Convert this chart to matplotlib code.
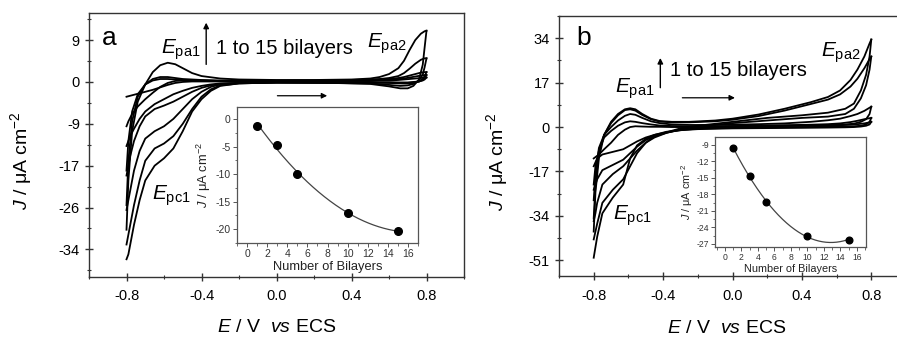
import numpy as np
import matplotlib
matplotlib.use("Agg")
import matplotlib.pyplot as plt
from matplotlib.ticker import MultipleLocator, FixedLocator

plt.rcParams['font.family'] = ['Liberation Sans', 'DejaVu Sans']
plt.rcParams['mathtext.fontset'] = 'custom'
plt.rcParams['mathtext.rm'] = 'Liberation Sans'
plt.rcParams['mathtext.it'] = 'Liberation Sans:italic'
plt.rcParams['mathtext.bf'] = 'Liberation Sans:bold'
plt.rcParams['axes.unicode_minus'] = False

# ---------------- Panel a data ----------------
E_fwd_a = [-0.8, -0.79, -0.77, -0.74, -0.7, -0.66, -0.62, -0.58, -0.54, -0.5, -0.45, -0.4, -0.3, -0.2,
           0.0, 0.2, 0.4, 0.5, 0.55, 0.6, 0.65, 0.68, 0.71, 0.74, 0.77, 0.79, 0.8]
E_rev_a = [0.8, 0.79, 0.78, 0.76, 0.73, 0.7, 0.66, 0.6, 0.5, 0.3, 0.0, -0.2, -0.3, -0.35, -0.4, -0.45,
           -0.5, -0.55, -0.6, -0.65, -0.7, -0.73, -0.76, -0.78, -0.79, -0.8]

J_fwd_a = {
    15: [-30, -20, -10, -4, -0.5, 2, 3.4, 3.9, 3.6, 2.8, 1.8, 1.2, 0.7, 0.5, 0.4, 0.4, 0.5, 0.7, 1.0, 1.6, 2.8, 4.3, 6.5, 8.5, 9.8, 10.3, 10.4],
    10: [-25, -16, -8, -3, -0.5, 0.6, 1.0, 1.0, 0.8, 0.6, 0.5, 0.4, 0.3, 0.3, 0.3, 0.3, 0.4, 0.5, 0.6, 0.8, 1.2, 1.8, 2.7, 3.7, 4.5, 4.8, 4.8],
    5: [-18, -12, -6, -2.5, -0.5, 0.3, 0.6, 0.6, 0.5, 0.4, 0.3, 0.3, 0.2, 0.2, 0.2, 0.3, 0.3, 0.4, 0.5, 0.6, 0.8, 1.0, 1.3, 1.6, 1.9, 2.0, 2.0],
    3: [-9, -8, -6.5, -5, -3.5, -2.2, -1, -0.2, 0.2, 0.3, 0.3, 0.2, 0.2, 0.2, 0.2, 0.2, 0.3, 0.3, 0.4, 0.5, 0.6, 0.7, 0.9, 1.1, 1.3, 1.4, 1.4],
    1: [-3, -2.9, -2.7, -2.4, -2, -1.6, -1.1, -0.6, -0.2, 0, 0.1, 0.1, 0.1, 0.1, 0.1, 0.1, 0.2, 0.2, 0.3, 0.3, 0.4, 0.5, 0.6, 0.7, 0.8, 0.9, 0.9],
}
J_rev_a = {
    15: [10.4, 7, 3.5, 0.5, -0.8, -1.3, -1.3, -0.9, -0.4, -0.2, -0.1, -0.3, -0.8, -1.8, -3.5, -6, -10, -13.5, -15.5, -17, -20, -24, -29, -33, -35, -36],
    10: [4.8, 3, 1.5, 0.3, -0.4, -0.7, -0.8, -0.6, -0.3, -0.2, -0.1, -0.3, -0.7, -1.5, -3, -5.5, -8.5, -11, -12.5, -13.5, -16, -20, -25, -29, -31, -33],
    5: [2.0, 1.2, 0.6, 0.1, -0.2, -0.3, -0.3, -0.2, -0.1, -0.1, -0.1, -0.2, -0.5, -1.0, -2.0, -3.5, -5.5, -7.5, -9, -10, -11.5, -14, -18, -22, -24, -26],
    3: [1.4, 0.8, 0.4, 0.1, -0.1, -0.2, -0.2, -0.1, -0.1, -0.1, -0.1, -0.2, -0.4, -0.7, -1.2, -2, -3, -4, -4.8, -5.5, -7, -9, -12, -15, -17, -19],
    1: [0.9, 0.5, 0.3, 0.1, 0, -0.1, -0.1, -0.1, -0.1, -0.1, -0.1, -0.2, -0.3, -0.5, -0.8, -1.2, -1.8, -2.5, -3.5, -4.5, -6, -7.5, -9.5, -11, -12, -13],
}

bilayers = [1, 3, 5, 10, 15]
inset_a_J = [-1.2, -4.7, -10.0, -17.1, -20.3]

yticks_a = [8.5, 0, -8.5, -17, -25.5, -34]
yticklabels_a = ['9', '0', '-9', '-17', '-26', '-34']

# ---------------- Panel b data ----------------
E_fwd_b = [-0.8, -0.79, -0.77, -0.74, -0.7, -0.66, -0.62, -0.59, -0.56, -0.52, -0.47, -0.42, -0.35, -0.25,
           -0.1, 0.0, 0.15, 0.3, 0.45, 0.55, 0.62, 0.68, 0.72, 0.76, 0.79, 0.8]
E_rev_b = [0.8, 0.79, 0.77, 0.74, 0.7, 0.65, 0.55, 0.4, 0.2, 0.0, -0.2, -0.3, -0.38, -0.45, -0.5, -0.55,
           -0.59, -0.63, -0.69, -0.75, -0.78, -0.79, -0.8]

J_fwd_b = {
    15: [-40, -25, -12, -3, 2, 5, 6.8, 7.2, 6.8, 5.0, 3.2, 2.3, 2.0, 2.0, 2.5, 3.2, 4.8, 7.0, 9.5, 11.5, 14, 18, 22, 27, 32, 33.5],
    10: [-35, -22, -10, -3, 1.5, 4.5, 6.5, 6.8, 6.3, 4.6, 3.0, 2.1, 1.8, 1.8, 2.2, 2.8, 4.2, 6.3, 8.8, 10.5, 12.5, 15.5, 18.5, 22.5, 26, 27],
    5: [-28, -18, -8, -3, 0, 2.5, 4.3, 5, 4.7, 3.5, 2.2, 1.5, 1.0, 0.8, 0.8, 0.9, 1.1, 1.4, 2, 2.6, 3.2, 4.2, 5, 6.2, 7.4, 7.8],
    3: [-22, -15, -9, -4, -1.5, 0.5, 1.8, 2.2, 2, 1.5, 1, 0.6, 0.4, 0.3, 0.3, 0.4, 0.5, 0.7, 0.9, 1.1, 1.4, 1.9, 2.4, 3, 3.4, 3.5],
    1: [-12, -11.5, -10.5, -8.5, -6, -3, -1, 0, 0.3, 0.2, 0.1, 0.1, 0, 0, 0.1, 0.2, 0.3, 0.4, 0.5, 0.6, 0.7, 0.9, 1.1, 1.4, 1.8, 2],
}
J_rev_b = {
    15: [33.5, 27, 20, 14, 9, 7, 5.5, 4.5, 3.5, 2, 0.5, -0.5, -2, -3, -4.5, -7, -12, -22, -27, -33, -42, -46, -50],
    10: [27, 22, 16, 11, 7, 5, 4, 3.5, 2.5, 1.5, 0.2, -0.8, -2.2, -3.5, -6, -10, -15, -20, -24, -29, -37, -40, -43],
    5: [7.8, 5, 3, 2, 1.3, 1, 0.8, 0.6, 0.5, 0.2, -0.3, -1, -2.2, -4, -6, -9, -12, -15, -18, -22, -29, -33, -36],
    3: [3.5, 2, 1, 0.5, 0.3, 0.2, 0.1, 0, -0.1, -0.3, -0.6, -1.2, -2, -3.5, -5, -7.5, -10, -12.5, -14.5, -16.5, -20, -22, -24],
    1: [2, 1, 0.5, 0.2, 0, -0.1, -0.2, -0.3, -0.4, -0.5, -0.8, -1.2, -1.8, -3, -4, -5.5, -7, -8.5, -9.5, -10.5, -12, -13.5, -15],
}

inset_b_J = [-9.5, -14.7, -19.4, -25.6, -26.2]

yticks_b = [34, 17, 0, -17, -34, -51]
yticklabels_b = ['34', '17', '0', '-17', '-34', '-51']

xticks_main = [-0.8, -0.4, 0.0, 0.4, 0.8]
xticklabels_main = ['-0.8', '-0.4', '0.0', '0.4', '0.8']

W, H = 897, 337
fig = plt.figure(figsize=(W / 100, H / 100), dpi=100)

def fr(x0, y0, x1, y1):
    return [x0 / W, 1 - y1 / H, (x1 - x0) / W, (y1 - y0) / H]

spine_col = '#333333'
LW = 1.3
YLAB = r'$J$ / μA cm$^{\mathrm{-2}}$'
XLAB = r'$E$ / V  $vs$ ECS'

def style_main(ax, yt, ytl):
    for s in ax.spines.values():
        s.set_color(spine_col)
        s.set_linewidth(1.0)
    ax.set_xticks(xticks_main)
    ax.set_xticklabels(xticklabels_main)
    ax.xaxis.set_minor_locator(MultipleLocator(0.2))
    ax.set_yticks(yt)
    ax.set_yticklabels(ytl)
    step = abs(yt[1] - yt[0])
    ax.yaxis.set_minor_locator(MultipleLocator(step / 2))
    ax.tick_params(which='major', direction='inout', length=6, width=1.0, color=spine_col,
                   labelsize=10.5, top=False, right=False)
    ax.tick_params(which='minor', direction='inout', length=3, width=0.8, color=spine_col,
                   top=False, right=False)
    ax.tick_params(axis='x', pad=6)

# ---------- Panel a ----------
axa = fig.add_axes(fr(89, 13, 464, 277))
for n in bilayers:
    axa.plot(E_fwd_a, J_fwd_a[n], color='black', lw=LW, solid_joinstyle='round')
    axa.plot(E_rev_a, J_rev_a[n], color='black', lw=LW, solid_joinstyle='round')
axa.set_xlim(-1.0, 1.0)
axa.set_ylim(-39.6, 14.0)
style_main(axa, yticks_a, yticklabels_a)
axa.set_xlabel(XLAB, fontsize=14)
axa.set_ylabel(YLAB, fontsize=14)
axa.xaxis.set_label_coords(0.50, -0.158)
axa.yaxis.set_label_coords(-0.148, 0.44)

axa.text(-0.93, 9.0, 'a', fontsize=19, va='center', ha='left')
axa.text(-0.615, 5.8, r'$E_{\mathrm{pa1}}$', fontsize=15, va='baseline', ha='left')
axa.text(0.485, 7.0, r'$E_{\mathrm{pa2}}$', fontsize=15, va='baseline', ha='left')
axa.text(-0.665, -24.0, r'$E_{\mathrm{pc1}}$', fontsize=15, va='baseline', ha='left')
axa.text(-0.325, 6.7, '1 to 15 bilayers', fontsize=14.5, va='center', ha='left')
axa.annotate('', xy=(-0.375, 12.6), xytext=(-0.375, 3.0),
             arrowprops=dict(arrowstyle='-|>', color='black', lw=1.0, mutation_scale=8))
axa.annotate('', xy=(0.285, -2.8), xytext=(-0.01, -2.8),
             arrowprops=dict(arrowstyle='-|>', color='black', lw=0.9, mutation_scale=8))

# ---------- Panel b ----------
axb = fig.add_axes(fr(559, 16, 906, 276))
for n in bilayers:
    axb.plot(E_fwd_b, J_fwd_b[n], color='black', lw=LW, solid_joinstyle='round')
    axb.plot(E_rev_b, J_rev_b[n], color='black', lw=LW, solid_joinstyle='round')
axb.set_xlim(-1.0, 1.0)
axb.set_ylim(-57.0, 42.5)
style_main(axb, yticks_b, yticklabels_b)
axb.set_xlabel(XLAB, fontsize=14)
axb.set_ylabel(YLAB, fontsize=14)
axb.xaxis.set_label_coords(0.483, -0.168)
axb.yaxis.set_label_coords(-0.14, 0.44)

axb.text(-0.9, 34.0, 'b', fontsize=19, va='center', ha='left')
axb.text(-0.68, 13.0, r'$E_{\mathrm{pa1}}$', fontsize=15, va='baseline', ha='left')
axb.text(0.51, 27.0, r'$E_{\mathrm{pa2}}$', fontsize=15, va='baseline', ha='left')
axb.text(-0.69, -35.5, r'$E_{\mathrm{pc1}}$', fontsize=15, va='baseline', ha='left')
axb.text(-0.36, 21.8, '1 to 15 bilayers', fontsize=14.5, va='center', ha='left')
axb.annotate('', xy=(-0.416, 27.5), xytext=(-0.416, 14.0),
             arrowprops=dict(arrowstyle='-|>', color='black', lw=1.0, mutation_scale=8))
axb.annotate('', xy=(0.03, 11.2), xytext=(-0.305, 11.2),
             arrowprops=dict(arrowstyle='-|>', color='black', lw=0.9, mutation_scale=8))

# ---------- Insets ----------
def style_inset(ax, tick_fs):
    for s in ax.spines.values():
        s.set_color('#555555')
        s.set_linewidth(0.9)
    ax.tick_params(which='major', direction='out', length=3, width=0.7, color='#555555',
                   labelsize=tick_fs, pad=1.5, labelcolor='#333333')
    ax.tick_params(which='minor', direction='out', length=1.8, width=0.6, color='#555555')
    ax.xaxis.set_major_locator(MultipleLocator(2))
    ax.xaxis.set_minor_locator(MultipleLocator(1))

def quad_fit(x, y):
    c = np.polyfit(x, y, 2)
    xs = np.linspace(min(x), max(x), 200)
    return xs, np.polyval(c, xs)

ina = fig.add_axes(fr(237, 107, 418, 243))
xs, ys = quad_fit(bilayers, inset_a_J)
ina.plot(xs, ys, color='#444444', lw=0.9)
ina.plot(bilayers, inset_a_J, 'o', color='black', ms=5.5)
ina.set_xlim(-1, 17)
ina.set_ylim(-22.5, 2.2)
ina.yaxis.set_major_locator(MultipleLocator(5))
ina.yaxis.set_minor_locator(MultipleLocator(2.5))
style_inset(ina, 7.5)
ina.set_xlabel('Number of Bilayers', fontsize=9.3, labelpad=1.5, color='#222222')
ina.set_ylabel(YLAB, fontsize=9.3, labelpad=2, color='#222222')

inb = fig.add_axes(fr(715, 137, 866, 247))
xs, ys = quad_fit(bilayers, inset_b_J)
inb.plot(xs, ys, color='#444444', lw=0.9)
inb.plot(bilayers, inset_b_J, 'o', color='black', ms=4.8)
inb.set_xlim(-1.2, 17.1)
inb.set_ylim(-27.55, -7.55)
inb.yaxis.set_major_locator(FixedLocator([-9, -12, -15, -18, -21, -24, -27]))
inb.yaxis.set_minor_locator(FixedLocator([-10.5, -13.5, -16.5, -19.5, -22.5, -25.5]))
style_inset(inb, 6.2)
inb.set_xlabel('Number of Bilayers', fontsize=7.8, labelpad=1, color='#222222')
inb.set_ylabel(YLAB, fontsize=7.8, labelpad=1, color='#222222')

fig.savefig('out.png', dpi=100)
